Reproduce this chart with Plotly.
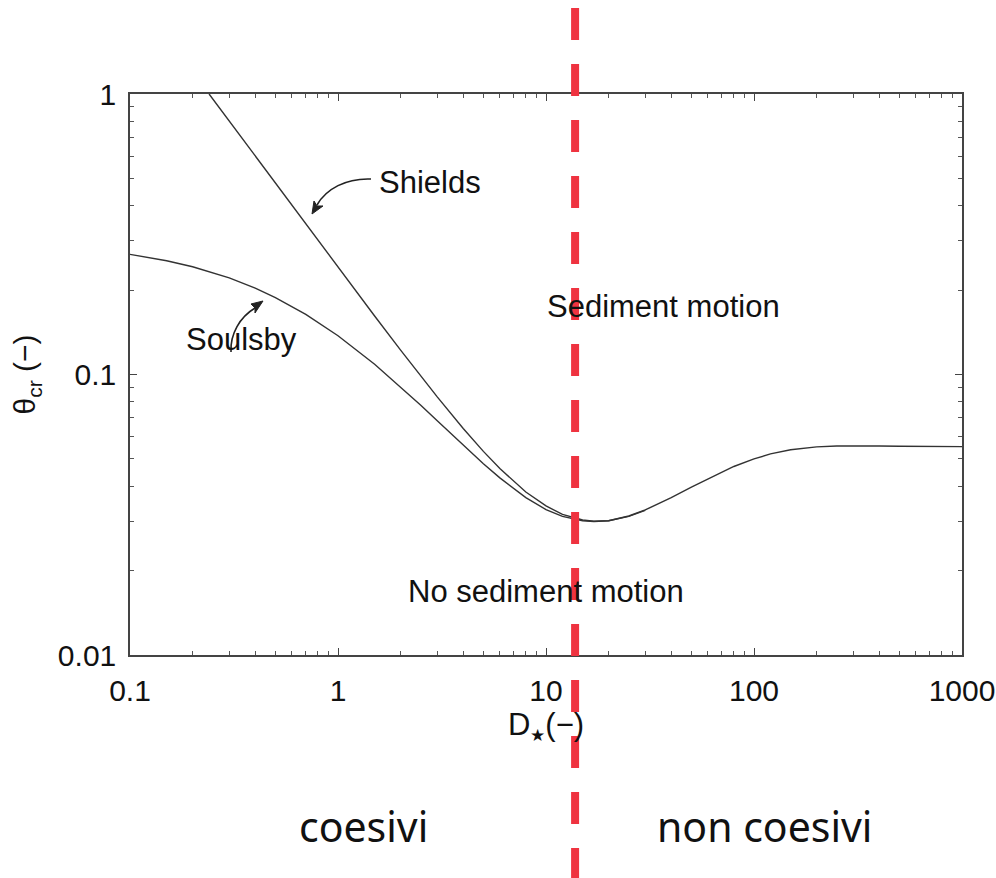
import math
import plotly.graph_objects as go

# ---- data ----
SOULSBY_D = [0.1, 0.15, 0.2, 0.25, 0.3, 0.4, 0.5, 0.7, 1, 1.5, 2, 2.5, 3, 4, 5, 6, 7, 8,
             10, 12, 15, 17, 20, 25, 30, 40, 50, 60, 70, 80,
             100, 120, 150, 200, 250, 300, 400, 500, 700, 1000]
SOULSBY_THETA = [0.2680, 0.2544, 0.2422, 0.2310, 0.2209, 0.2031, 0.1880, 0.1638, 0.1375,
                 0.1088, 0.0904, 0.0777, 0.0684, 0.0560, 0.0481, 0.0428, 0.0391, 0.0364,
                 0.0330, 0.0312, 0.0301, 0.0299, 0.0301, 0.0313, 0.0329, 0.0364, 0.0397,
                 0.0425, 0.0450, 0.0470,
                 0.0500, 0.0521, 0.0539, 0.0552, 0.0556, 0.0557, 0.0556, 0.0555, 0.0554, 0.0553]

SHIELDS_D = [0.24, 0.25, 0.3, 0.4, 0.5, 0.7, 1, 1.5, 2, 2.5, 3, 4, 5, 6, 7, 8,
             10, 12, 15, 17, 20, 25, 30]
SHIELDS_THETA = [1.0003, 0.9603, 0.8003, 0.6004, 0.4805, 0.3436, 0.2411, 0.1616, 0.1222,
                 0.0987, 0.0832, 0.0642, 0.0532, 0.0462, 0.0415, 0.0381,
                 0.0340, 0.0317, 0.0303, 0.0300, 0.0301, 0.0312, 0.0328]

X_RANGE = [0.1, 1000]
Y_RANGE = [0.01, 1]
DIVIDER_D = 13.8

LABELS = {
    "Shields": (2.77, 0.482),
    "Soulsby": (0.342, 0.133),
    "Sediment motion": (36.9, 0.175),
    "No sediment motion": (10.0, 0.0168),
}

# ---- geometry (page pixels; body margin removed by post_script) ----
W, H = 996, 878
PL, PT, PR, PB = 130, 94, 962, 655          # plot box in page pixels
ML, MT, MR, MB = PL, PT, W - PR, H - PB
PW, PH = PR - PL, PB - PT


def px2paper(x, y):
    return (x - PL) / PW, (PB - y) / PH


def d2paper_x(d):
    lo, hi = math.log10(X_RANGE[0]), math.log10(X_RANGE[1])
    return (math.log10(d) - lo) / (hi - lo)


LINE = "#333333"
fig = go.Figure()
fig.add_trace(go.Scatter(x=SOULSBY_D, y=SOULSBY_THETA, mode="lines",
                         line=dict(color=LINE, width=1.4), showlegend=False))
fig.add_trace(go.Scatter(x=SHIELDS_D, y=SHIELDS_THETA, mode="lines",
                         line=dict(color=LINE, width=1.4), showlegend=False))

FONT = "Liberation Sans, Arial, Helvetica, sans-serif"
annots = []
for text, (d, th) in LABELS.items():
    annots.append(dict(x=math.log10(d), y=math.log10(th), xref="x", yref="y",
                       text=text, showarrow=False, xanchor="center", yanchor="middle",
                       font=dict(family=FONT, size=31, color="#111111")))

for text, cx in (("coesivi", 363), ("non coesivi", 764)):
    xp, yp = px2paper(cx, 826)
    annots.append(dict(x=xp, y=yp, xref="paper", yref="paper", text=text,
                       showarrow=False, xanchor="center", yanchor="middle",
                       font=dict(family="Noto Sans, Open Sans, sans-serif", size=41, color="#111111")))


def path_from_px(cmds):
    out = []
    for c in cmds:
        if isinstance(c, str):
            out.append(c)
        else:
            xp, yp = px2paper(*c)
            out.append(f"{xp:.5f},{yp:.5f}")
    return " ".join(out)


shapes = []
# curved arrow bodies
shapes.append(dict(type="path", xref="paper", yref="paper",
                   path=path_from_px(["M", (371, 179), "C", (346, 178), (326, 189), (317, 205)]),
                   line=dict(color="#222222", width=1.6)))
shapes.append(dict(type="path", xref="paper", yref="paper",
                   path=path_from_px(["M", (231, 352), "C", (230, 334), (240, 317), (255, 308)]),
                   line=dict(color="#222222", width=1.6)))
# arrow heads
shapes.append(dict(type="path", xref="paper", yref="paper",
                   path=path_from_px(["M", (312, 214), "L", (323, 206), "L", (317, 206), "L", (314, 201), "Z"]),
                   fillcolor="#222222", line=dict(color="#222222", width=1)))
shapes.append(dict(type="path", xref="paper", yref="paper",
                   path=path_from_px(["M", (263, 301), "L", (251, 304), "L", (255, 308), "L", (255, 313), "Z"]),
                   fillcolor="#222222", line=dict(color="#222222", width=1)))

# red dashed divider
xd = d2paper_x(DIVIDER_D)
_, ytop = px2paper(0, 8)
_, ybot = px2paper(0, 878)
shapes.append(dict(type="line", xref="paper", yref="paper", x0=xd, x1=xd, y0=ytop, y1=ybot,
                   line=dict(color="#EF3340", width=8, dash="32px,24px"), layer="above"))

axis_common = dict(
    type="log", showgrid=False, zeroline=False, automargin=False,
    showline=True, linecolor="#444444", linewidth=1.5, mirror="allticks",
    ticks="inside", ticklen=7, tickwidth=1.2, tickcolor="#444444",
    dtick=1, exponentformat="none",
    minor=dict(ticks="inside", ticklen=4, tickwidth=1, tickcolor="#555555", dtick="D1", showgrid=False),
    tickfont=dict(family=FONT, size=30, color="#111111"),
)

fig.update_layout(
    width=W, height=H, autosize=False,
    margin=dict(l=ML, r=MR, t=MT, b=MB),
    paper_bgcolor="white", plot_bgcolor="white",
    xaxis=dict(range=[math.log10(X_RANGE[0]), math.log10(X_RANGE[1])],
               ticklabelstandoff=8,
               title=dict(text="D<sub><span style='font-size:17px'>★</span></sub>(−)",
                          font=dict(family=FONT, size=31, color="#111111"),
                          standoff=0),
               **axis_common),
    yaxis=dict(range=[math.log10(Y_RANGE[0]), math.log10(Y_RANGE[1])],
               ticklabelstandoff=6,
               title=dict(text="θ<sub>cr</sub> (−)", font=dict(family=FONT, size=30, color="#111111"),
                          standoff=13),
               **axis_common),
    annotations=annots,
    shapes=shapes,
)

fig.write_html("out.html",
               config={"displayModeBar": False},
               post_script="document.body.style.margin='0';document.body.style.overflow='hidden';")
